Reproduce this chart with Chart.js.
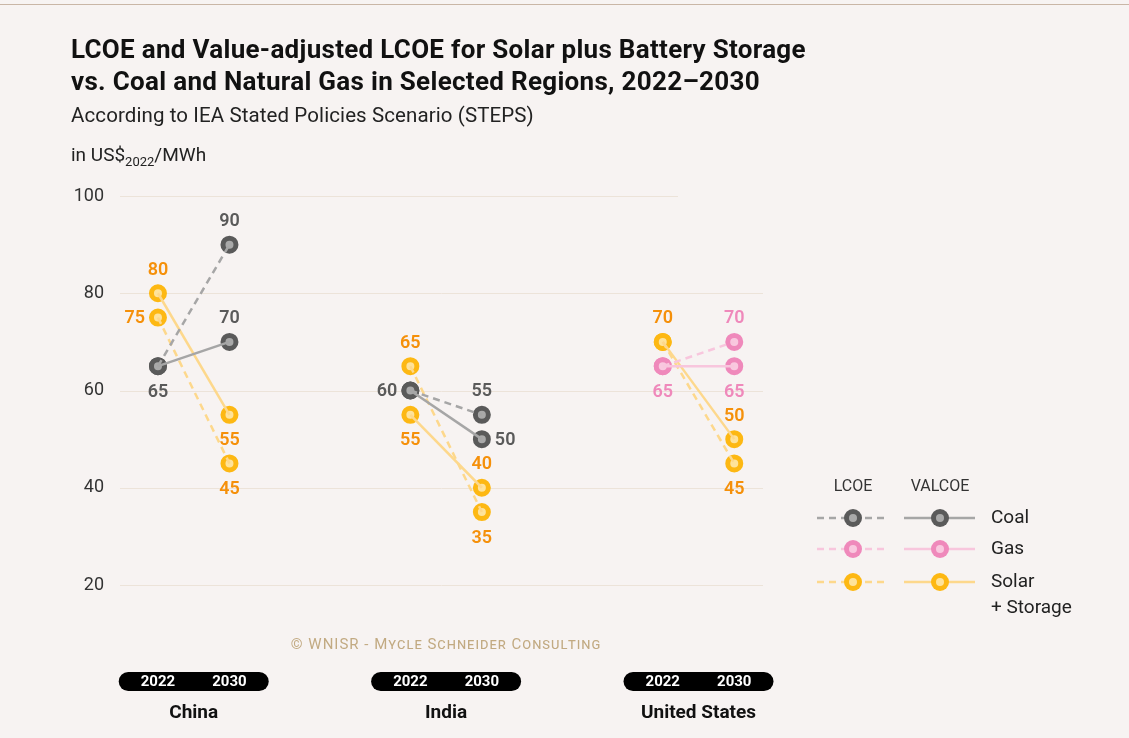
<!DOCTYPE html>
<html>
<head>
<meta charset="utf-8">
<script src="https://cdn.jsdelivr.net/npm/chart.js@4/dist/chart.umd.min.js"></script>
<style>
  html, body { margin:0; padding:0; background:#f7f3f2; }
  body { width:1129px; height:738px; position:relative; overflow:hidden; font-family: Roboto, "Noto Sans", sans-serif; }
  #topline { position:absolute; left:0; top:4px; width:1129px; height:1px; background:#c9b6a6; }
  #title { position:absolute; left:71px; top:33px; font-size:26px; font-weight:700; line-height:32px; color:#111; letter-spacing:0.3px; white-space:nowrap; }
  #subtitle { position:absolute; left:71px; top:103px; font-size:20.5px; color:#222; letter-spacing:0.1px; }
  #unit { position:absolute; left:71px; top:143px; font-size:19px; color:#222; }
  #unit sub { font-size:13px; vertical-align:-5px; }
  #wm { position:absolute; left:196px; width:500px; text-align:center; top:635px; font-size:15px; color:#c2aa82; font-variant:small-caps; letter-spacing:1px; }
  #wrap { position:absolute; left:0; top:0; width:1129px; height:738px; }
</style>
</head>
<body>
<div id="wrap"><canvas id="c"></canvas></div>
<div id="topline"></div>
<div id="title">LCOE and Value-adjusted LCOE for Solar plus Battery Storage<br>vs. Coal and Natural Gas in Selected Regions, 2022–2030</div>
<div id="subtitle">According to IEA Stated Policies Scenario (STEPS)</div>
<div id="unit">in US$<sub>2022</sub>/MWh</div>
<div id="wm">© WNISR - Mycle Schneider Consulting</div>
<script>
// ---- data ----
const regions = ['China', 'India', 'United States'];
const years = ['2022', '2030'];
const fossilType = ['Coal', 'Coal', 'Gas'];
const fossilLCOE   = [[65, 90], [60, 55], [65, 70]];
const fossilVALCOE = [[65, 70], [60, 50], [65, 65]];
const solarLCOE    = [[75, 45], [65, 35], [70, 45]];
const solarVALCOE  = [[80, 55], [55, 40], [70, 50]];
const yTicks = [20, 40, 60, 80, 100];
const legendRows = ['Coal', 'Gas', 'Solar\n+ Storage'];
const legendCols = ['LCOE', 'VALCOE'];

// ---- style ----
const GROUP_GAP = 3.53;
const colors = {
  Coal:  { marker:'#5a5a5a', inner:'#a9a9a9', line:'#a6a6a6', text:'#5a5a5a' },
  Gas:   { marker:'#ef89bb', inner:'#f9c8df', line:'#f8c6dd', text:'#ef89bb' },
  Solar: { marker:'#fdb813', inner:'#fee39b', line:'#fdd88c', text:'#f5900a' }
};
// label placement per region: [series][yearIdx]
const labelPos = [
  { fL:[null,'top'], fV:['bottom','top'], sL:['left','bottom'], sV:['top','bottom'] },
  { fL:[null,'top'], fV:['left','right'], sL:['top','bottom'],  sV:['bottom','top'] },
  { fL:[null,'top'], fV:['bottom','bottom'], sL:[null,'bottom'], sV:['top','top'] }
];

const xPos = (r, yi) => r * GROUP_GAP + yi;
const lineSets = [], pointSets = [];
function addSeries(vals, kind, dashed, key) {
  regions.forEach((reg, r) => {
    const k = kind === 'fossil' ? fossilType[r] : 'Solar';
    const c = colors[k];
    const data = years.map((y, yi) => ({ x: xPos(r, yi), y: vals[r][yi] }));
    lineSets.push({ data, borderColor:c.line, borderWidth:2.5, borderDash: dashed ? [7,5] : [], pointRadius:0, showLine:true, fill:false, tension:0 });
    pointSets.push({ data, showLine:false, pointRadius:6.5, pointHoverRadius:6.5, pointBorderWidth:5,
      pointBackgroundColor:c.inner, pointBorderColor:c.marker, _labels: labelPos[r][key], _textColor:c.text });
  });
}
addSeries(fossilLCOE, 'fossil', true, 'fL');
addSeries(fossilVALCOE, 'fossil', false, 'fV');
addSeries(solarLCOE, 'solar', true, 'sL');
addSeries(solarVALCOE, 'solar', false, 'sV');

const gridPlugin = {
  id:'grid',
  beforeDatasetsDraw(chart) {
    const { ctx, chartArea, scales:{ y } } = chart;
    ctx.save();
    ctx.strokeStyle = '#ece3d9'; ctx.lineWidth = 1;
    yTicks.forEach(v => {
      const py = Math.round(y.getPixelForValue(v)) + 0.5;
      const right = v === 100 ? chartArea.left + 558 : chartArea.right;
      ctx.beginPath(); ctx.moveTo(chartArea.left, py); ctx.lineTo(right, py); ctx.stroke();
    });
    ctx.restore();
  }
};

function drawMarker(ctx, x, y, c) {
  ctx.beginPath(); ctx.arc(x, y, 9, 0, Math.PI*2); ctx.fillStyle = c.marker; ctx.fill();
  ctx.beginPath(); ctx.arc(x, y, 4, 0, Math.PI*2); ctx.fillStyle = c.inner; ctx.fill();
}

const decoPlugin = {
  id:'deco',
  afterDraw(chart) {
    const { ctx, scales:{ x } } = chart;
    ctx.save();
    // data labels
    ctx.font = '600 18px Roboto, "Noto Sans", sans-serif';
    chart.data.datasets.forEach((ds, di) => {
      if (!ds._labels) return;
      const meta = chart.getDatasetMeta(di);
      meta.data.forEach((pt, i) => {
        const pos = ds._labels[i]; if (!pos) return;
        let tx = pt.x, ty = pt.y;
        ctx.textAlign = 'center'; ctx.textBaseline = 'middle';
        if (pos === 'top') ty -= 24;
        if (pos === 'bottom') ty += 25;
        if (pos === 'left') { tx -= 13; ctx.textAlign = 'right'; }
        if (pos === 'right') { tx += 13; ctx.textAlign = 'left'; }
        ctx.fillStyle = ds._textColor;
        ctx.fillText(String(ds.data[i].y), tx, ty + 1);
      });
    });
    // year pills + region names
    regions.forEach((reg, r) => {
      const x0 = x.getPixelForValue(xPos(r, 0)), x1 = x.getPixelForValue(xPos(r, 1));
      const cx = (x0 + x1) / 2;
      ctx.fillStyle = '#000';
      ctx.beginPath(); ctx.roundRect(cx - 75, 672, 150, 19, 9.5); ctx.fill();
      ctx.fillStyle = '#fff'; ctx.font = '700 15px Roboto, sans-serif';
      ctx.textAlign = 'center'; ctx.textBaseline = 'middle';
      years.forEach((yr, yi) => ctx.fillText(yr, x.getPixelForValue(xPos(r, yi)), 682));
      ctx.fillStyle = '#111'; ctx.font = '700 19px Roboto, sans-serif';
      ctx.fillText(reg, cx, 713);
    });
    // legend
    ctx.font = '400 16px Roboto, sans-serif'; ctx.fillStyle = '#333';
    ctx.textAlign = 'center';
    ctx.fillText(legendCols[0], 853, 487);
    ctx.fillText(legendCols[1], 940, 487);
    const rowY = [518, 549, 582];
    const rowKey = ['Coal', 'Gas', 'Solar'];
    legendRows.forEach((name, i) => {
      const c = colors[rowKey[i]]; const yy = rowY[i];
      ctx.strokeStyle = c.line; ctx.lineWidth = 2.5;
      ctx.setLineDash([7,5]); ctx.beginPath(); ctx.moveTo(817, yy); ctx.lineTo(889, yy); ctx.stroke();
      ctx.setLineDash([]); ctx.beginPath(); ctx.moveTo(904, yy); ctx.lineTo(975, yy); ctx.stroke();
      drawMarker(ctx, 853, yy, c); drawMarker(ctx, 940, yy, c);
      ctx.fillStyle = '#222'; ctx.font = '400 19px Roboto, sans-serif'; ctx.textAlign = 'left';
      name.split('\n').forEach((ln, j) => ctx.fillText(ln, 991, yy + j * 26));
    });
    ctx.restore();
  }
};

new Chart(document.getElementById('c'), {
  type: 'scatter',
  data: { datasets: [...lineSets, ...pointSets] },
  options: {
    responsive: true, maintainAspectRatio: false, animation: false,
    layout: { padding: { left: 0, top: 196, right: 366, bottom: 153 } },
    plugins: { legend: { display:false }, tooltip: { enabled:false } },
    scales: {
      x: { type:'linear', display:false, min:-0.531, max: 8.462 },
      y: { min:20, max:100, afterFit(s){ s.width = 120; },
           afterBuildTicks(s){ s.ticks = yTicks.map(v => ({ value:v })); },
           grid:{ display:false, drawTicks:false }, border:{ display:false },
           ticks:{ padding:16, color:'#333', font:{ family:'Roboto, sans-serif', size:18 } } }
    }
  },
  plugins: [gridPlugin, decoPlugin]
});
</script>
</body>
</html>
